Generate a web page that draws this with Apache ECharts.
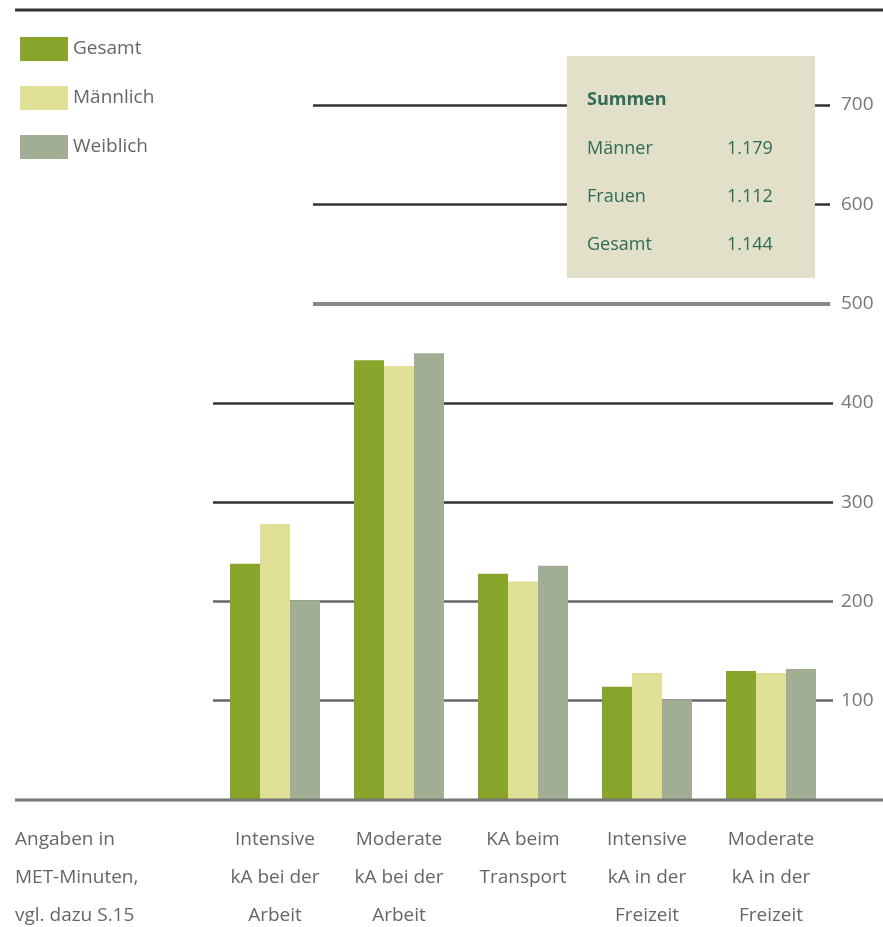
<!DOCTYPE html>
<html><head><meta charset="utf-8">
<script src="https://cdn.jsdelivr.net/npm/echarts@6/dist/echarts.min.js"></script>
<style>html,body{margin:0;padding:0;background:#fff}#c{width:883px;height:927px}</style>
</head><body><div id="c"></div>
<script>
const categories = ['Intensive\nkA bei der\nArbeit','Moderate\nkA bei der\nArbeit','KA beim\nTransport','Intensive\nkA in der\nFreizeit','Moderate\nkA in der\nFreizeit'];
const seriesNames = ['Gesamt','Männlich','Weiblich'];
const gesamt = [238, 443, 228, 114, 130];
const maennlich = [278, 437, 220, 128, 128];
const weiblich = [201, 450, 236, 101, 132];
const summenTitle = 'Summen';
const summenLabels = ['Männer','Frauen','Gesamt'];
const summenValues = ['1.179','1.112','1.144'];
const noteText = 'Angaben in\nMET-Minuten,\nvgl. dazu S.15';
const upperLines = [500, 600, 700];

const FONT = "'Open Sans','Noto Sans',sans-serif";
const colors = ['#88a42b','#dfe096','#a1ae94'];
const chart = echarts.init(document.getElementById('c'));

const upperStyles = {500:{color:'#888',width:4},600:{color:'#333',width:2.5},700:{color:'#333',width:2.5}};

const boxGraphics = [
  {type:'rect', z:100, shape:{x:567,y:56,width:248,height:222}, style:{fill:'#e3e0c9'}},
  {type:'text', z:101, left:587, top:91, style:{text:summenTitle, font:'bold 18px '+FONT, fill:'#2f6b58'}}
];
summenLabels.forEach((l,i)=>{
  boxGraphics.push({type:'text', z:101, left:587, top:140+i*48, style:{text:l, font:'18px '+FONT, fill:'#2f6b58'}});
  boxGraphics.push({type:'text', z:101, left:727, top:140+i*48, style:{text:summenValues[i], font:'18px '+FONT, fill:'#2f6b58'}});
});

chart.setOption({
  animation:false,
  color: colors,
  textStyle:{fontFamily:FONT},
  legend:{
    orient:'vertical', left:15, top:32, itemWidth:48, itemHeight:24, itemGap:25,
    icon:'rect', data:seriesNames,
    textStyle:{fontSize:19, color:'#666', fontFamily:FONT}
  },
  grid:{left:213, right:50, top:105, bottom:127, outerBoundsMode:'none', containLabel:false},
  xAxis:{
    type:'category', data:categories,
    axisLine:{show:false}, axisTick:{show:false},
    axisLabel:{fontSize:19, color:'#666', lineHeight:38, verticalAlign:'top', margin:21, fontFamily:FONT, interval:0}
  },
  yAxis:{
    type:'value', position:'right', min:0, max:700, interval:100,
    axisLine:{show:false}, axisTick:{show:false},
    axisLabel:{fontSize:19, color:'#777', margin:8, fontFamily:FONT, formatter:v=> v===0?'':String(v)},
    splitLine:{show:true, lineStyle:{width:2.5, color:['rgba(0,0,0,0)','#666','#666','#333','#333','rgba(0,0,0,0)','rgba(0,0,0,0)','rgba(0,0,0,0)']}}
  },
  series:[
    {name:seriesNames[0], type:'bar', data:gesamt, barWidth:30, barGap:'0%',
      markLine:{silent:true, symbol:'none', label:{show:false},
        data: upperLines.map(v=>[{x:313, yAxis:v, lineStyle:{type:'solid', color:upperStyles[v].color, width:upperStyles[v].width}},{x:830, yAxis:v}])}},
    {name:seriesNames[1], type:'bar', data:maennlich, barWidth:30, barGap:'0%'},
    {name:seriesNames[2], type:'bar', data:weiblich, barWidth:30, barGap:'0%'}
  ],
  graphic:[
    {type:'line', z:50, shape:{x1:15,y1:10,x2:883,y2:10}, style:{stroke:'#333', lineWidth:3}},
    {type:'line', z:50, shape:{x1:15,y1:800,x2:883,y2:800}, style:{stroke:'#777', lineWidth:3}},
    {type:'text', left:15, top:821, style:{text:noteText, font:'19px '+FONT, fill:'#666', lineHeight:38}}
  ].concat(boxGraphics)
});
</script></body></html>
